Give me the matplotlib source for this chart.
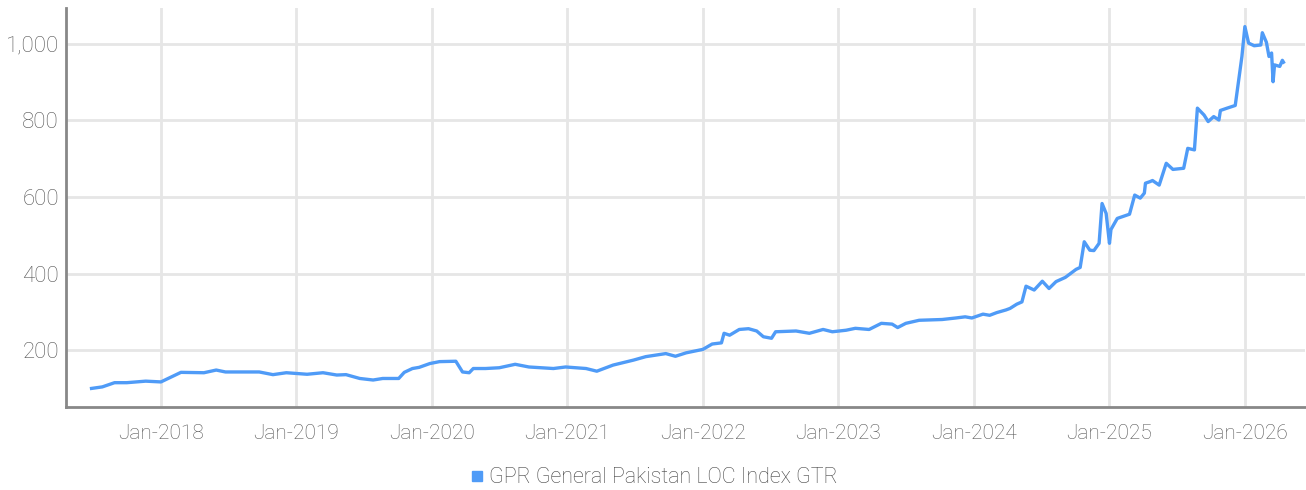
import matplotlib
matplotlib.use("Agg")
import matplotlib.pyplot as plt
import matplotlib.dates as mdates
from matplotlib.lines import Line2D
from matplotlib.ticker import FuncFormatter
import pandas as pd

# values
dates = [
    "2017-06-28", "2017-07-27", "2017-08-29", "2017-10-01", "2017-11-21", "2018-01-01",
    "2018-02-24", "2018-04-27", "2018-05-30", "2018-06-24", "2018-09-23", "2018-10-30",
    "2018-12-05", "2019-01-30", "2019-03-14", "2019-04-20", "2019-05-15", "2019-06-21",
    "2019-07-27", "2019-08-22", "2019-10-04", "2019-10-19", "2019-11-10", "2019-11-28",
    "2019-12-27", "2020-01-22", "2020-03-06", "2020-03-24", "2020-04-11", "2020-04-22",
    "2020-05-25", "2020-07-01", "2020-08-13", "2020-09-19", "2020-11-24", "2020-12-27",
    "2021-02-20", "2021-03-21", "2021-05-04", "2021-06-28", "2021-07-31", "2021-09-23",
    "2021-10-19", "2021-11-17", "2022-01-01", "2022-01-26", "2022-02-20", "2022-02-27",
    "2022-03-14", "2022-04-09", "2022-05-04", "2022-05-26", "2022-06-13", "2022-07-05",
    "2022-07-16", "2022-09-09", "2022-10-15", "2022-11-21", "2022-12-16", "2023-01-22",
    "2023-02-16", "2023-03-25", "2023-04-27", "2023-05-26", "2023-06-10", "2023-07-02",
    "2023-08-07", "2023-10-08", "2023-11-14", "2023-12-09", "2023-12-27", "2024-01-26",
    "2024-02-13", "2024-03-03", "2024-03-28", "2024-04-08", "2024-04-26", "2024-05-10",
    "2024-05-21", "2024-06-12", "2024-07-04", "2024-07-22", "2024-08-10", "2024-09-04",
    "2024-10-03", "2024-10-14", "2024-10-25", "2024-11-09", "2024-11-20", "2024-12-04",
    "2024-12-12", "2024-12-23", "2025-01-01", "2025-01-05", "2025-01-22", "2025-02-24",
    "2025-03-10", "2025-03-25", "2025-04-05", "2025-04-08", "2025-04-20", "2025-04-27",
    "2025-05-15", "2025-06-03", "2025-06-21", "2025-07-20", "2025-07-31", "2025-08-18",
    "2025-08-26", "2025-09-13", "2025-09-24", "2025-10-09", "2025-10-23", "2025-10-27",
    "2025-11-14", "2025-12-06", "2025-12-13", "2025-12-24", "2026-01-01", "2026-01-11",
    "2026-01-26", "2026-02-13", "2026-02-17", "2026-02-28", "2026-03-07", "2026-03-14",
    "2026-03-18", "2026-03-22", "2026-04-05", "2026-04-12", "2026-04-15",
]
values = [
    100, 104, 115, 115, 119, 117,
    142, 141, 148, 143, 143, 136,
    141, 137, 141, 135, 136, 126,
    122, 126, 126, 142, 152, 155,
    165, 170, 171, 143, 141, 152,
    152, 154, 163, 156, 152, 156,
    152, 145, 161, 174, 183, 191,
    184, 193, 202, 216, 219, 244,
    239, 254, 256, 250, 235, 231,
    248, 250, 244, 254, 248, 252,
    257, 254, 270, 268, 259, 270,
    278, 280, 284, 287, 284, 294,
    291, 298, 305, 309, 320, 326,
    367, 357, 380, 361, 379, 390,
    411, 416, 483, 461, 460, 479,
    583, 557, 479, 515, 544, 555,
    605, 597, 610, 636, 640, 643,
    631, 688, 672, 675, 727, 723,
    832, 814, 797, 810, 801, 826,
    832, 839, 888, 967, 1045, 1002,
    995, 997, 1029, 1004, 967, 976,
    901, 945, 941, 957, 952,
]
series_name = "GPR General Pakistan LOC Index GTR"
y_ticks = [200, 400, 600, 800, 1000]
x_years = list(range(2018, 2027))

line_color = "#4f9bf7"
text_color = "#555555"

plt.rcParams['font.family'] = ['Roboto', 'DejaVu Sans']

fig = plt.figure(figsize=(13.06, 4.9), dpi=100)
ax = fig.add_axes([0.0505, 0.169, 0.949, 0.815])

ax.plot(pd.to_datetime(dates), values, color=line_color, linewidth=2.4, solid_joinstyle="round")

ax.set_xlim(pd.Timestamp("2017-04-20"), pd.Timestamp("2026-06-13"))
ax.set_ylim(51, 1094)
ax.set_yticks(y_ticks)
ax.yaxis.set_major_formatter(FuncFormatter(lambda v, p: f"{int(v):,}"))
ax.set_xticks([pd.Timestamp(f"{y}-01-01") for y in x_years])
ax.xaxis.set_major_formatter(mdates.DateFormatter("%b-%Y"))

ax.grid(True, color="#e6e6e6", linewidth=2)
ax.set_axisbelow(True)
for s in ["top", "right"]:
    ax.spines[s].set_visible(False)
for s in ["left", "bottom"]:
    ax.spines[s].set_color("#888888")
    ax.spines[s].set_linewidth(2)
ax.tick_params(length=0, labelsize=15, labelcolor=text_color)
ax.tick_params(axis="x", pad=12)
ax.tick_params(axis="y", pad=5, labelsize=16)
for lab in ax.get_xticklabels() + ax.get_yticklabels():
    lab.set_fontweight("light")

handle = Line2D([], [], color=line_color, marker="s", linestyle="none", markersize=7)
leg = fig.legend([handle], [series_name], loc="center", bbox_to_anchor=(0.5, 0.025),
                 frameon=False, handletextpad=0.15, handlelength=0.8,
                 prop={"size": 15.5, "weight": "light"})
for t in leg.get_texts():
    t.set_color("#444444")

fig.savefig("out.png", dpi=100)
